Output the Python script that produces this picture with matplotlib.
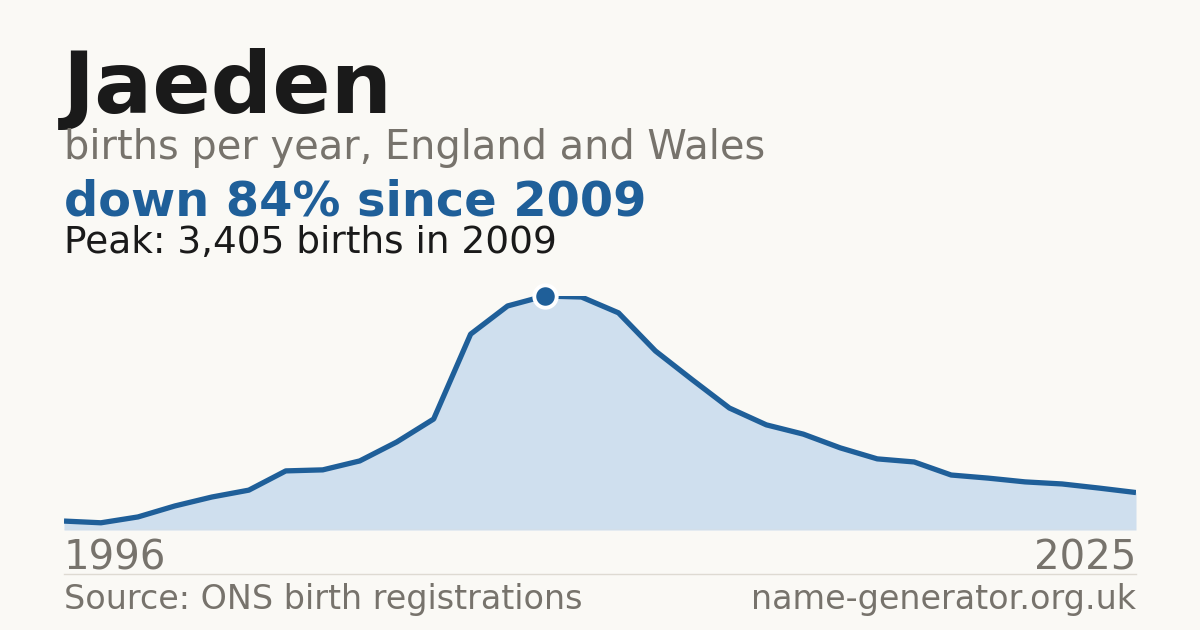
import matplotlib
matplotlib.use('Agg')
import matplotlib.pyplot as plt

plt.rcParams['font.family'] = ['DejaVu Sans']

years = list(range(1996, 2026))
births = [130, 105, 190, 350, 480, 580, 860, 875, 1005, 1280,
          1615, 2850, 3260, 3405, 3390, 3160, 2605, 2185, 1775, 1530,
          1395, 1195, 1035, 990, 800, 755, 700, 670, 610, 545]
peak_year = 2009
peak_val = 3405

bg = '#faf9f5'
blue = '#1f5f99'
fill = '#cfdfee'
grey = '#77736c'

fig = plt.figure(figsize=(12, 6.3), dpi=100, facecolor=bg)
W, H = 1200, 630

def px(x, y):
    return x / W, 1 - y / H

# chart area: x 64..1136, y 296(peak)..530(zero)
ax = fig.add_axes([64 / W, 1 - 530 / H, (1136 - 64) / W, 234 / H])
ax.set_facecolor(bg)
ax.fill_between(years, births, 0, color=fill, lw=0)
ax.plot(years, births, color=blue, lw=3.8, solid_joinstyle='round', solid_capstyle='butt')
ax.scatter([peak_year], [peak_val], s=260, color=blue, edgecolor='white', linewidth=2.8, zorder=5, clip_on=False)
ax.axhline(0, color='#e2ded6', lw=1)
ax.set_xlim(years[0], years[-1])
ax.set_ylim(0, peak_val)
ax.axis('off')

# separator line above the footer
fig.add_artist(plt.Line2D([64 / W, 1136 / W], [1 - 574 / H] * 2, color='#dedad2', lw=1))

fig.text(*px(63, 113), 'Jaeden', fontsize=62, fontweight='bold', color='#1a1a1a', va='baseline')
fig.text(*px(64, 159), 'births per year, England and Wales', fontsize=28.7, color=grey, va='baseline')
fig.text(*px(64, 215), 'down 84% since 2009', fontsize=34.5, fontweight='bold', color=blue, va='baseline')
fig.text(*px(64, 253), 'Peak: 3,405 births in 2009', fontsize=27, color='#1a1a1a', va='baseline')

fig.text(*px(64, 570), str(years[0]), fontsize=29, color=grey, va='baseline')
fig.text(*px(1136, 570), str(years[-1]), fontsize=29, color=grey, va='baseline', ha='right')
fig.text(*px(64, 609), 'Source: ONS birth registrations', fontsize=24, color=grey, va='baseline')
fig.text(*px(1136, 609), 'name-generator.org.uk', fontsize=24, color=grey, va='baseline', ha='right')

fig.savefig('out.png', dpi=100, facecolor=bg)
